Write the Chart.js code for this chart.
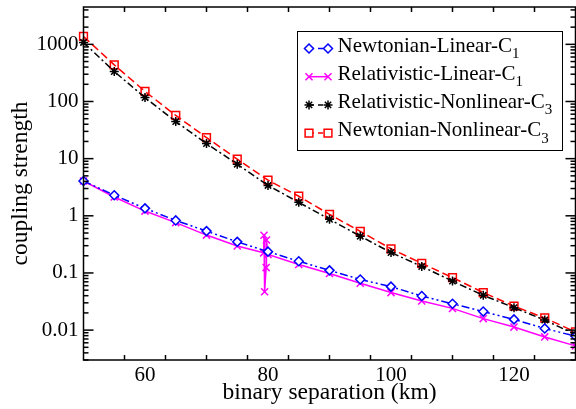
<!DOCTYPE html>
<html>
<head>
<meta charset="utf-8">
<script src="https://cdn.jsdelivr.net/npm/chart.js@4.4.1/dist/chart.umd.min.js"></script>
<style>
  html, body { margin: 0; padding: 0; background: #fff; }
  #wrap { width: 576px; height: 409px; }
</style>
</head>
<body>
<div id="wrap"><canvas id="c" width="576" height="409"></canvas></div>
<script>
// Binary separation (km) sampled every 5 km
const separation = [50, 55, 60, 65, 70, 75, 80, 85, 90, 95, 100, 105, 110, 115, 120, 125, 130];

const newtonianLinearC1 = [4.07, 2.29, 1.35, 0.83, 0.54, 0.35, 0.236, 0.16, 0.111, 0.077,
                           0.0576, 0.0395, 0.0289, 0.0211, 0.0154, 0.0107, 0.0078];

// The relativistic linear run is sampled more finely around the 80 km resonance
const relativisticLinearX = [50, 55, 60, 65, 70, 75, 79.3, 79.35, 79.45, 79.7, 79.75, 80,
                             85, 90, 95, 100, 105, 110, 115, 120, 125, 130];
const relativisticLinearC1 = [4.07, 2.13, 1.21, 0.76, 0.46, 0.296, 0.225, 0.456, 0.047, 0.124, 0.377, 0.21,
                              0.141, 0.098, 0.066, 0.0454, 0.0323, 0.024, 0.0159, 0.0113, 0.0076, 0.0053];

const relativisticNonlinearC3 = [1080, 335, 117, 44.6, 18.4, 8.0, 3.4, 1.72, 0.87, 0.44,
                                 0.228, 0.13, 0.072, 0.0406, 0.0247, 0.015, 0.0084];

const newtonianNonlinearC3 = [1375, 437, 150, 57, 23.4, 9.8, 4.2, 2.2, 1.06, 0.535,
                              0.265, 0.147, 0.083, 0.0454, 0.0263, 0.0163, 0.0093];

const xTickValues = [60, 80, 100, 120];
const yTickValues = [0.01, 0.1, 1, 10, 100, 1000];

const seriesNames = [
  ['Newtonian-Linear-C', '1'],
  ['Relativistic-Linear-C', '1'],
  ['Relativistic-Nonlinear-C', '3'],
  ['Newtonian-Nonlinear-C', '3']
];

const SERIF = '"Liberation Serif", "Times New Roman", serif';

const pairs = (xs, ys) => xs.map((x, i) => ({ x, y: ys[i] }));

// Small marker painter shared by the legend
function paintMarker(ctx, style, x, y, r, color) {
  ctx.save();
  ctx.strokeStyle = color;
  ctx.lineWidth = 1.5;
  ctx.setLineDash([]);
  ctx.beginPath();
  if (style === 'rectRot') {
    ctx.moveTo(x, y - r); ctx.lineTo(x + r, y); ctx.lineTo(x, y + r); ctx.lineTo(x - r, y); ctx.closePath();
    ctx.fillStyle = '#fff'; ctx.fill();
  } else if (style === 'rect') {
    const s = r * Math.SQRT1_2;
    ctx.rect(x - s, y - s, 2 * s, 2 * s);
    ctx.fillStyle = '#fff'; ctx.fill();
  } else if (style === 'crossRot') {
    const s = r * Math.SQRT1_2;
    ctx.moveTo(x - s, y - s); ctx.lineTo(x + s, y + s);
    ctx.moveTo(x + s, y - s); ctx.lineTo(x - s, y + s);
  } else if (style === 'star') {
    const s = r * Math.SQRT1_2;
    ctx.moveTo(x - r, y); ctx.lineTo(x + r, y);
    ctx.moveTo(x, y - r); ctx.lineTo(x, y + r);
    ctx.moveTo(x - s, y - s); ctx.lineTo(x + s, y + s);
    ctx.moveTo(x + s, y - s); ctx.lineTo(x - s, y + s);
  }
  ctx.stroke();
  ctx.restore();
}

// Frame with inward major/minor ticks on all four sides
const frameTicks = {
  id: 'frameTicks',
  afterDatasetsDraw(chart) {
    const { ctx, chartArea: a, scales: { x, y } } = chart;
    ctx.save();
    ctx.strokeStyle = '#000';
    ctx.lineWidth = 1.5;
    ctx.setLineDash([]);
    const seg = (x1, y1, x2, y2) => { ctx.beginPath(); ctx.moveTo(x1, y1); ctx.lineTo(x2, y2); ctx.stroke(); };

    // x axis: majors every 20 km, two minors in between
    for (let k = 0; k * 20 / 3 + 50 <= 130.001; k++) {
      const v = 50 + k * 20 / 3;
      if (v <= 50.001 || v >= 129.999) continue;
      const major = Math.abs(v / 20 - Math.round(v / 20)) < 1e-6;
      const len = major ? 10 : 5;
      const p = x.getPixelForValue(v);
      seg(p, a.bottom, p, a.bottom - len);
      seg(p, a.top, p, a.top + len);
    }

    // y axis: decades and 2..9 subdivisions
    for (let e = -3; e <= 3; e++) {
      for (let m = 1; m <= 9; m++) {
        const v = m * Math.pow(10, e);
        if (v < y.min || v > y.max) continue;
        const len = m === 1 ? 10 : 5;
        const p = y.getPixelForValue(v);
        seg(a.left, p, a.left + len, p);
        seg(a.right, p, a.right - len, p);
      }
    }

    ctx.strokeRect(a.left, a.top, a.right - a.left, a.bottom - a.top);
    ctx.restore();
  }
};

// Boxed legend with subscripted labels
const boxedLegend = {
  id: 'boxedLegend',
  afterDraw(chart) {
    const { ctx } = chart;
    const bx = 297, by = 31, bw = 265, bh = 119;
    ctx.save();
    ctx.fillStyle = '#fff';
    ctx.fillRect(bx, by, bw, bh);
    ctx.strokeStyle = '#000';
    ctx.lineWidth = 1;
    ctx.strokeRect(bx + 0.5, by + 0.5, bw, bh);

    chart.data.datasets.forEach((ds, i) => {
      const base = 51.5 + i * 28.2;
      const my = base - 3;
      const x1 = 309, x2 = 328;
      ctx.save();
      ctx.strokeStyle = ds.borderColor;
      ctx.lineWidth = ds.borderWidth;
      ctx.setLineDash(ds.legendDash || []);
      ctx.beginPath(); ctx.moveTo(x1, my); ctx.lineTo(x2, my); ctx.stroke();
      ctx.restore();
      paintMarker(ctx, ds.pointStyle, x1, my, ds.pointRadius, ds.borderColor);
      paintMarker(ctx, ds.pointStyle, x2, my, ds.pointRadius, ds.borderColor);

      const [main, sub] = seriesNames[i];
      ctx.fillStyle = '#000';
      ctx.textBaseline = 'alphabetic';
      ctx.textAlign = 'left';
      ctx.font = '21px ' + SERIF;
      ctx.fillText(main, 337.5, base);
      const w = ctx.measureText(main).width;
      ctx.font = '15px ' + SERIF;
      ctx.fillText(sub, 337.5 + w, base + 6.5);
    });
    ctx.restore();
  }
};

const common = { borderWidth: 1.5, pointBorderWidth: 1.5, pointBackgroundColor: 'rgba(0,0,0,0)', clip: false, tension: 0 };

new Chart(document.getElementById('c'), {
  type: 'line',
  data: {
    datasets: [
      Object.assign({}, common, {
        label: 'Newtonian-Linear-C1',
        data: pairs(separation, newtonianLinearC1),
        borderColor: '#0000ff', pointBorderColor: '#0000ff',
        borderDash: [8, 3, 2, 3, 2, 3], legendDash: [5, 4],
        pointStyle: 'rectRot', pointRadius: 4.5, pointBackgroundColor: '#ffffff'
      }),
      Object.assign({}, common, {
        label: 'Relativistic-Linear-C1',
        data: pairs(relativisticLinearX, relativisticLinearC1),
        borderColor: '#ff00ff', pointBorderColor: '#ff00ff',
        borderDash: [],
        pointStyle: 'crossRot', pointRadius: 5
      }),
      Object.assign({}, common, {
        label: 'Relativistic-Nonlinear-C3',
        data: pairs(separation, relativisticNonlinearC3),
        borderColor: '#000000', pointBorderColor: '#000000',
        borderDash: [7, 3, 2, 3], legendDash: [5, 4],
        pointStyle: 'star', pointRadius: 4.5
      }),
      Object.assign({}, common, {
        label: 'Newtonian-Nonlinear-C3',
        data: pairs(separation, newtonianNonlinearC3),
        borderColor: '#ff0000', pointBorderColor: '#ff0000',
        borderDash: [8, 4], legendDash: [5, 4],
        pointStyle: 'rect', pointRadius: 5.5
      })
    ]
  },
  options: {
    responsive: false,
    animation: false,
    devicePixelRatio: 1,
    layout: { autoPadding: false, padding: { top: 7, right: 0.5, left: 0, bottom: 0 } },
    plugins: { legend: { display: false }, tooltip: { enabled: false } },
    scales: {
      x: {
        type: 'linear', min: 50, max: 130,
        grid: { display: false, drawTicks: false }, border: { display: false },
        afterBuildTicks: s => { s.ticks = xTickValues.map(v => ({ value: v })); },
        afterFit: s => { s.height = 49; s.paddingLeft = 0; s.paddingRight = 0; },
        ticks: {
          autoSkip: false, maxRotation: 0, padding: 3, color: '#000',
          font: { family: SERIF, size: 21 },
          callback: v => String(v)
        },
        title: {
          display: true, text: 'binary separation (km)', color: '#000',
          font: { family: SERIF, size: 23.5 }, padding: { top: 0, bottom: 2.5 }
        }
      },
      y: {
        type: 'logarithmic', min: 0.003, max: 4500,
        grid: { display: false, drawTicks: false }, border: { display: false },
        afterBuildTicks: s => { s.ticks = yTickValues.map(v => ({ value: v, major: true })); },
        afterFit: s => { s.width = 83.5; s.paddingTop = 0; s.paddingBottom = 0; },
        ticks: {
          autoSkip: false, padding: 5, color: '#000',
          font: { family: SERIF, size: 21 },
          callback: v => String(v)
        },
        title: {
          display: true, text: 'coupling strength', color: '#000',
          font: { family: SERIF, size: 23.5 }, padding: { top: 6.5, bottom: 0 }
        }
      }
    }
  },
  plugins: [frameTicks, boxedLegend]
});
</script>
</body>
</html>
